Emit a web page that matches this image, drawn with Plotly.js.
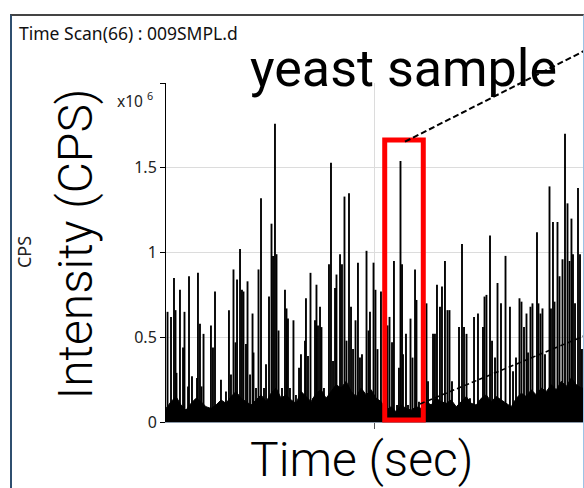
<!DOCTYPE html>
<html>
<head>
<meta charset="utf-8">
<script src="https://cdn.plot.ly/plotly-3.0.1.min.js"></script>
<style>
  html, body { margin: 0; padding: 0; background: #ffffff; }
  #wrap { position: relative; width: 584px; height: 488px; overflow: hidden; }
  #chart { position: absolute; left: 0; top: 0; width: 584px; height: 488px; }
  #frame { position: absolute; left: 10px; top: 14px; width: 571px; height: 480px;
           border-top: 2px solid #444; border-left: 2px solid #2f4f6f; border-right: 1px solid #9cc3e6;
           pointer-events: none; }
</style>
</head>
<body>
<div id="wrap">
  <div id="chart"></div>
  <div id="frame"></div>
</div>
<script>
// Time scan of yeast sample, intensity in units of 10^6 CPS
const spikeTime = [0.22,0.72,1.15,1.37,1.51,2.01,2.45,2.66,3.17,3.31,3.74,4.46,4.60,4.89,5.11,5.40,6.47,6.76,7.05,7.91,
  8.63,9.06,9.35,9.71,10.00,10.22,10.65,10.93,11.15,11.51,11.73,12.09,12.45,12.59,12.95,13.31,13.67,14.10,14.39,14.82,
  15.18,15.40,15.68,15.90,16.19,16.69,17.12,17.34,17.55,17.84,18.34,18.70,19.14,19.42,20.00,20.14,20.43,20.79,21.15,21.44,
  21.65,21.87,22.16,22.37,22.73,23.45,23.74,24.03,24.32,24.53,25.04,25.32,25.68,25.97,26.33,26.62,26.91,27.27,27.62,27.91,
  28.20,28.49,28.85,29.14,29.35,29.86,30.14,30.43,30.93,31.87,32.16,32.52,32.80,33.24,33.52,33.74,33.96,34.10,34.53,34.82,
  35.18,35.47,35.83,36.04,36.40,37.48,37.70,38.42,38.70,38.99,39.42,39.71,40.14,40.50,40.79,41.15,42.16,42.59,42.88,43.24,
  43.74,44.32,44.89,45.61,45.83,46.11,46.62,46.91,47.34,47.70,48.20,48.85,49.49,49.93,50.36,50.86,51.15,51.51,51.87,52.09,
  52.44,52.73,53.38,53.59,53.88,54.17,54.53,55.18,55.39,55.68,55.90,56.33,56.62,57.05,57.41,57.77,58.06,58.34,58.56,58.85,
  59.28,59.57,59.85];
const spikeIntensity = [0.65,0.62,0.85,0.66,0.29,0.78,0.44,0.65,0.21,0.86,0.27,0.26,0.88,0.58,0.21,0.52,0.57,0.44,0.77,0.25,
  0.18,0.66,0.28,0.90,0.47,0.84,1.02,0.78,0.77,0.46,0.83,0.28,0.64,0.41,0.20,0.90,1.32,0.20,0.34,0.74,
  1.17,0.98,1.76,0.99,0.54,0.20,0.78,0.67,0.61,0.20,0.60,0.16,0.32,0.40,0.48,0.73,0.39,0.88,0.14,0.60,
  0.81,0.57,0.68,0.56,0.20,0.93,1.53,0.36,0.79,0.87,0.99,0.93,1.33,0.48,1.35,0.68,0.43,0.60,0.94,0.38,
  0.40,0.16,1.01,0.54,0.65,0.94,0.78,0.43,0.77,0.57,0.62,0.47,0.95,0.10,0.32,1.54,0.93,0.40,0.52,0.10,
  0.61,0.38,0.90,0.72,0.12,0.70,0.24,0.52,0.52,0.81,0.68,0.80,0.95,0.66,0.66,0.24,0.56,1.05,0.56,0.52,
  0.14,0.62,0.64,0.56,0.74,0.75,1.10,0.48,0.38,0.82,0.70,0.98,0.68,0.30,0.38,0.73,0.71,0.56,0.64,0.41,
  0.68,0.70,1.12,0.70,0.64,0.67,0.40,1.39,0.67,1.18,0.71,1.18,0.86,0.96,1.70,1.29,0.95,1.20,0.99,0.70,
  1.38,0.99,0.43];
const floorTime = [0.0,0.72,1.44,2.16,2.88,3.6,4.32,5.04,5.76,6.48,7.2,7.92,8.64,9.36,10.08,10.8,11.52,12.24,12.96,13.68,
  14.4,15.12,15.84,16.56,17.28,18.0,18.72,19.44,20.16,20.88,21.6,22.32,23.04,23.76,24.48,25.2,25.92,26.64,27.36,28.08,
  28.8,29.52,30.24,30.96,31.68,32.4,33.12,33.84,34.56,35.28,36.0,36.72,37.44,38.16,38.88,39.6,40.32,41.04,41.76,42.48,
  43.2,43.92,44.64,45.36,46.08,46.8,47.52,48.24,48.96,49.68,50.4,51.12,51.84,52.56,53.28,54.0,54.72,55.44,56.16,56.88,
  57.6,58.32,59.04,59.76,60.0];
const floorIntensity = [0.08,0.12,0.15,0.10,0.07,0.11,0.14,0.12,0.09,0.08,0.10,0.13,0.11,0.15,0.18,0.14,0.12,0.10,0.13,0.16,
  0.12,0.17,0.20,0.14,0.16,0.13,0.11,0.18,0.15,0.12,0.17,0.19,0.14,0.18,0.22,0.20,0.24,0.18,0.15,0.20,
  0.16,0.19,0.14,0.12,0.07,0.09,0.06,0.10,0.08,0.07,0.09,0.08,0.12,0.10,0.14,0.12,0.11,0.13,0.09,0.12,
  0.15,0.11,0.10,0.14,0.16,0.12,0.15,0.13,0.11,0.09,0.14,0.17,0.15,0.19,0.16,0.20,0.18,0.22,0.19,0.24,
  0.21,0.26,0.22,0.20,0.20];
const yTickVals = [0, 0.5, 1, 1.5, 2];
const yTickText = ['0', '0.5', '1', '1.5', ' '];
const xTickVals = [30];

const bigFont = {family: 'Roboto, "Open Sans", sans-serif', size: 48, color: '#000', weight: 300};
const smallFont = {family: '"Noto Sans", "Open Sans", sans-serif', size: 16, color: '#222'};

const traces = [
  {type: 'scatter', mode: 'lines', x: floorTime, y: floorIntensity, fill: 'tozeroy',
   fillcolor: '#000', line: {color: '#000', width: 1}, hoverinfo: 'skip', showlegend: false},
  {type: 'bar', x: spikeTime, y: spikeIntensity, width: 0.27,
   marker: {color: '#000', line: {width: 0}}, showlegend: false}
];

const layout = {
  width: 584, height: 488,
  margin: {l: 166, r: 1, t: 83, b: 66},
  paper_bgcolor: '#fff', plot_bgcolor: '#fff',
  showlegend: false,
  xaxis: {range: [0, 60], tickvals: xTickVals, showticklabels: false, ticks: 'outside', ticklen: 6,
          tickcolor: '#555', showline: true, linecolor: '#8a98a8', linewidth: 1,
          showgrid: true, gridcolor: '#dcdcdc', zeroline: false, fixedrange: true},
  yaxis: {range: [0, 2], tickvals: yTickVals, ticktext: yTickText, ticks: 'outside', ticklen: 5,
          tickcolor: '#000', showline: true, linecolor: '#000', linewidth: 1,
          showgrid: true, gridcolor: '#dcdcdc', zeroline: false, fixedrange: true,
          tickfont: smallFont},
  shapes: [
    {type: 'rect', xref: 'paper', yref: 'paper', x0: 0.5245, x1: 0.6170, y0: 0.006, y1: 0.832,
     line: {color: '#ff0000', width: 5}},
    {type: 'line', xref: 'paper', yref: 'paper', x0: 0.5731, y0: 0.8268, x1: 1.0024, y1: 1.0944,
     line: {color: '#000', width: 2, dash: '6px,3px'}},
    {type: 'line', xref: 'paper', yref: 'paper', x0: 0.6091, y0: 0.0531, x1: 1.0024, y1: 0.2537,
     line: {color: '#000', width: 1.6, dash: '5px,3px'}}
  ],
  annotations: [
    {text: 'Time (sec)', xref: 'paper', yref: 'paper', x: 0.470, y: -0.112,
     xanchor: 'center', yanchor: 'middle', showarrow: false, font: bigFont},
    {text: 'Intensity (CPS)', xref: 'paper', yref: 'paper', x: -0.218, y: 0.5236, textangle: -90,
     xanchor: 'center', yanchor: 'middle', showarrow: false, font: bigFont},
    {text: 'Time Scan(66) : 009SMPL.d', xref: 'paper', yref: 'paper', x: -0.3573, y: 1.1475,
     xanchor: 'left', yanchor: 'middle', showarrow: false,
     font: {family: '"Noto Sans", "Open Sans", sans-serif', size: 17.5, color: '#111'}},
    {text: 'yeast sample', xref: 'paper', yref: 'paper', x: 0.1966, y: 1.044,
     xanchor: 'left', yanchor: 'middle', showarrow: false,
     font: {family: 'Roboto, "Open Sans", sans-serif', size: 52, color: '#000'}},
    {text: 'CPS', xref: 'paper', yref: 'paper', x: -0.3405, y: 0.5015, textangle: -90,
     xanchor: 'center', yanchor: 'middle', showarrow: false,
     font: {family: '"Noto Sans", "Open Sans", sans-serif', size: 18, color: '#222'}},
    {text: 'x10 <sup>6</sup>', xref: 'paper', yref: 'paper', x: -0.1223, y: 0.95,
     xanchor: 'left', yanchor: 'middle', showarrow: false,
     font: {family: '"Noto Sans", "Open Sans", sans-serif', size: 15.5, color: '#222'}}
  ]
};

Plotly.newPlot('chart', traces, layout, {staticPlot: true, displayModeBar: false});
</script>
</body>
</html>
